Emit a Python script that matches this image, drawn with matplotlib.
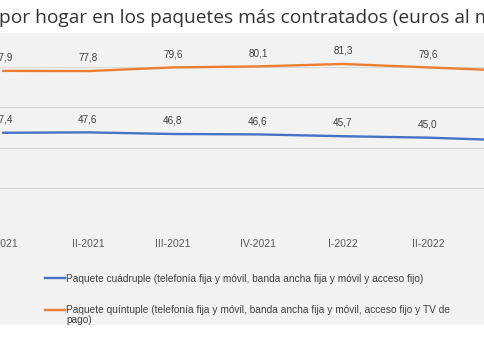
import matplotlib
matplotlib.use("Agg")
import matplotlib.pyplot as plt
from matplotlib.patches import Rectangle
from matplotlib.lines import Line2D

categories = ["I-2021", "II-2021", "III-2021", "IV-2021", "I-2022", "II-2022", "III-2022"]
cuadruple = [47.4, 47.6, 46.8, 46.6, 45.7, 45.0, 43.6]
quintuple = [77.9, 77.8, 79.6, 80.1, 81.3, 79.6, 77.9]
labels_cuad = ["47,4", "47,6", "46,8", "46,6", "45,7", "45,0", "43,6"]
labels_quin = ["77,9", "77,8", "79,6", "80,1", "81,3", "79,6", "77,9"]
series_names = [
    "Paquete cuádruple (telefonía fija y móvil, banda ancha fija y móvil y acceso fijo)",
    "Paquete quíntuple (telefonía fija y móvil, banda ancha fija y móvil, acceso fijo y TV de\npago)",
]
title = "por hogar en los paquetes más contratados (euros al mes)"

BLUE = "#4472C4"
ORANGE = "#ED7D31"
TXT = "#404040"

W, H = 485, 341
fig = plt.figure(figsize=(W / 100, H / 100), dpi=100)
fig.patch.set_facecolor("white")

# gray chart panel
fig.add_artist(Rectangle((0, (H - 325) / H), 1, (325 - 33) / H,
                         transform=fig.transFigure, facecolor="#f2f2f2",
                         edgecolor="none", zorder=0))

ax_bottom = (H - 229) / H
ax_top = (H - 26) / H
ax = fig.add_axes([0, ax_bottom, 1, ax_top - ax_bottom])
ax.set_facecolor("none")
x = list(range(len(categories)))
for s in ax.spines.values():
    s.set_visible(False)
ax.set_yticks([0, 20, 40, 60, 80])
ax.yaxis.grid(True, color="#d9d9d9", linewidth=0.8)
ax.tick_params(axis="y", left=False, labelleft=False)
ax.set_xticks(x)
ax.set_xticklabels(categories, fontsize=7.5, color="#595959", family="Liberation Sans")
ax.tick_params(axis="x", length=0, pad=7)
ax.set_axisbelow(True)

ax.plot(x, cuadruple, color=BLUE, lw=1.7, solid_capstyle="round", zorder=3)
ax.plot(x, quintuple, color=ORANGE, lw=1.7, solid_capstyle="round", zorder=3)
for xi, v, lab in zip(x, cuadruple, labels_cuad):
    ax.annotate(lab, (xi, v), xytext=(0, 6), textcoords="offset points",
                ha="center", va="bottom", fontsize=7.2, color=TXT,
                family="Liberation Sans", annotation_clip=True)
for xi, v, lab in zip(x, quintuple, labels_quin):
    ax.annotate(lab, (xi, v), xytext=(0, 6), textcoords="offset points",
                ha="center", va="bottom", fontsize=7.2, color=TXT,
                family="Liberation Sans", annotation_clip=True)

# limits set last (set_xticks would otherwise widen them)
ax.set_xlim(-3 / 85, 482 / 85)
ax.set_ylim(0, 100)

# title (cropped in the reference)
fig.text(-1 / W, (H - 23) / H, title, fontsize=13.75, color="#333333",
         family="Open Sans", ha="left", va="baseline")

# legend
fig.add_artist(Line2D([45 / W, 65 / W], [(H - 278) / H] * 2, color=BLUE, lw=1.7,
                      transform=fig.transFigure))
fig.text(66 / W, (H - 281.5) / H, series_names[0], fontsize=7.3, color=TXT,
         family="Liberation Sans", ha="left", va="baseline")
fig.add_artist(Line2D([45 / W, 65 / W], [(H - 310) / H] * 2, color=ORANGE, lw=1.7,
                      transform=fig.transFigure))
fig.text(66 / W, (H - 305) / H, series_names[1], fontsize=7.3, color=TXT,
         family="Liberation Sans", ha="left", va="top", linespacing=0.95)

fig.savefig("out.png", dpi=100, facecolor="white")
